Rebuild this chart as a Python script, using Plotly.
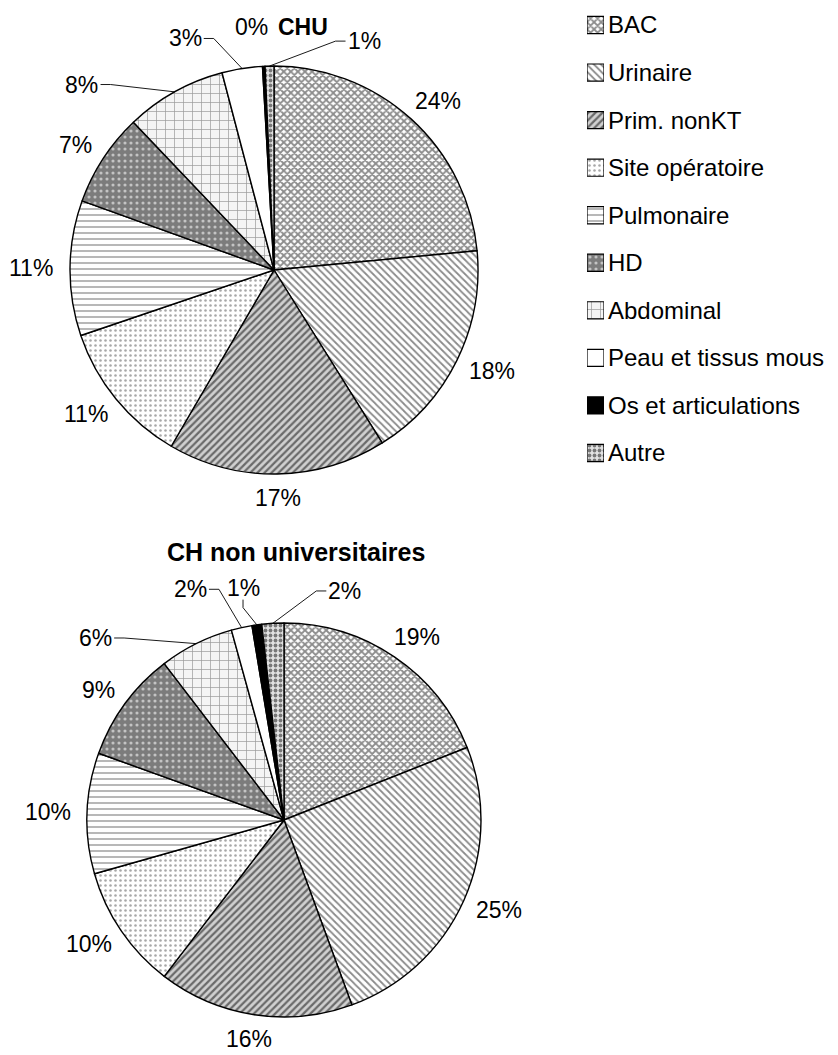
import math
import plotly.graph_objects as go

# categories, in slice order (clockwise from 12 o'clock)
categories = ["BAC", "Urinaire", "Prim. nonKT", "Site opératoire", "Pulmonaire", "HD",
              "Abdominal", "Peau et tissus mous", "Os et articulations", "Autre"]

# share of infections (%)
chu_values = [23.5, 17.6, 17.3, 11.4, 10.7, 7.4, 8.0, 3.2, 0.2, 0.7]
chnu_values = [19.0, 25.4, 16.0, 10.2, 9.9, 9.1, 6.1, 1.7, 0.8, 1.8]
pie_titles = ["CHU", "CH non universitaires"]

# ---- style ----
PAGE_W, PAGE_H = 838, 1055
OFF = 8                      # default body margin of the html page
W, H = PAGE_W - OFF, PAGE_H - OFF
FONT = "Liberation Sans, Arial, sans-serif"
LABEL_SIZE = 23
TITLE_SIZE = 25
LEGEND_SIZE = 24

pattern_shape = ["x", "\\", "/", ".", "-", ".", "+", "", "", "."]
pattern_bg = ["#ffffff", "#ffffff", "#d0d0d0", "#ffffff", "#ffffff", "#7c7c7c",
              "#f4f4f4", "#ffffff", "#000000", "#e2e2e2"]
pattern_fg = ["#8c8c8c", "#8a8a8a", "#6a6a6a", "#a8a8a8", "#a0a0a0", "#c4c4c4",
              "#9a9a9a", "#ffffff", "#000000", "#777777"]
pattern_size = [5, 5, 5, 5, 6, 6, 9, 8, 8, 5]
pattern_solid = [0.6, 0.35, 0.45, 0.2, 0.25, 0.22, 0.15, 0.3, 0.3, 0.45]

# pie geometry in page pixels: centre x, centre y, radius
pie_geom = [(274, 270, 204), (284, 820, 197)]
title_pos = [(303, 27), (296, 552)]
title_sizes = [23, TITLE_SIZE]
# callout labels (slice index -> text angle, text distance from centre)
callouts = [
    {6: (314, 267), 7: (339, 248), 8: (354.8, 244), 9: (21.5, 246)},
    {6: (314, 262), 7: (337.9, 249), 8: (350, 236), 9: (14.9, 237)},
]
LABEL_GAP = 16

# legend block (page pixels)
LEG_X0, LEG_X1 = 587, 604
LEG_FIRST, LEG_LAST = 25, 453
LEG_TOP, LEG_BOT = 8, 477


def to_paper(x, y):
    return (x - OFF) / W, 1 - (y - OFF) / H


def polar(cx, cy, rad, ang):
    a = math.radians(ang)
    return cx + rad * math.sin(a), cy - rad * math.cos(a)


fig = go.Figure()
annotations = []
shapes = []

for values, title, (cx, cy, r), tpos, tsize, calls in zip(
        [chu_values, chnu_values], pie_titles, pie_geom, title_pos, title_sizes, callouts):
    x0, y1 = to_paper(cx - r, cy - r)
    x1, y0 = to_paper(cx + r, cy + r)
    fig.add_trace(go.Pie(
        labels=categories,
        values=values,
        sort=False,
        direction="clockwise",
        rotation=0,
        textinfo="none",
        hoverinfo="label+percent",
        showlegend=False,
        domain=dict(x=[x0, x1], y=[y0, y1]),
        marker=dict(
            colors=pattern_bg,
            line=dict(color="black", width=1.4),
            pattern=dict(shape=pattern_shape, bgcolor=pattern_bg, fgcolor=pattern_fg,
                         size=pattern_size, solidity=pattern_solid, fillmode="replace"),
        ),
    ))

    tx, ty = to_paper(*tpos)
    annotations.append(dict(x=tx, y=ty, xref="paper", yref="paper", text="<b>%s</b>" % title,
                            showarrow=False, xanchor="center", yanchor="middle",
                            font=dict(family=FONT, size=tsize, color="black")))

    total = sum(values)
    start = 0.0
    for i, v in enumerate(values):
        span = v / total * 360
        mid = start + span / 2
        start += span
        pct = int(v / total * 100 + 0.5)
        text = "%d%%" % pct
        w = (0.556 * len(str(pct)) + 0.889) * LABEL_SIZE
        h = LABEL_SIZE * 0.7
        if i in calls:
            ang, dist = calls[i]
            lx, ly = polar(cx, cy, dist, ang)
            if pct > 0:
                px_, py_ = polar(cx, cy, r, mid)
                if px_ > lx + w / 2:
                    sx, sy = lx + w / 2 + 2, ly
                    ex, ey = sx + 10, sy
                elif px_ < lx - w / 2:
                    sx, sy = lx - w / 2 - 2, ly
                    ex, ey = sx - 10, sy
                else:
                    sx, sy = lx, ly + h / 2 + 4
                    ex, ey = sx, sy + 8
                pts = [to_paper(sx, sy), to_paper(ex, ey), to_paper(px_, py_)]
                path = "M %f %f L %f %f L %f %f" % (pts[0] + pts[1] + pts[2])
                shapes.append(dict(type="path", path=path, xref="paper", yref="paper",
                                   line=dict(color="black", width=0.9)))
        else:
            a = math.radians(mid)
            lx, ly = polar(cx, cy, r + LABEL_GAP, mid)
            lx += w / 2 * math.sin(a)
            ly -= h / 2 * math.cos(a)
        ax_, ay_ = to_paper(lx, ly)
        annotations.append(dict(x=ax_, y=ay_, xref="paper", yref="paper", text=text,
                                showarrow=False, xanchor="center", yanchor="middle",
                                font=dict(family=FONT, size=LABEL_SIZE, color="black")))

# legend drawn as a small bar chart of patterned squares
# (scalar marker colour so the per-square pattern colours are kept; plain fills become solid patterns)
legend_shape = [s if s else "." for s in pattern_shape]
legend_fg = [fg if s else bg for s, fg, bg in zip(pattern_shape, pattern_fg, pattern_bg)]
fig.add_trace(go.Bar(
    orientation="h",
    y=categories,
    x=[1] * len(categories),
    width=0.36,
    showlegend=False,
    hoverinfo="skip",
    marker=dict(
        color="white",
        line=dict(color="black", width=1.2),
        pattern=dict(shape=legend_shape, bgcolor=pattern_bg, fgcolor=legend_fg,
                     size=pattern_size, solidity=pattern_solid, fillmode="replace"),
    ),
))

leg_x0, leg_y0 = to_paper(LEG_X0, LEG_BOT)
leg_x1, leg_y1 = to_paper(LEG_X1, LEG_TOP)
step = (LEG_LAST - LEG_FIRST) / (len(categories) - 1)
y_range = [len(categories) - 1 + (LEG_BOT - LEG_LAST) / step, -(LEG_FIRST - LEG_TOP) / step]

fig.update_layout(
    width=W,
    height=H,
    margin=dict(l=0, r=0, t=0, b=0),
    paper_bgcolor="white",
    plot_bgcolor="rgba(0,0,0,0)",
    showlegend=False,
    annotations=annotations,
    shapes=shapes,
    xaxis=dict(domain=[leg_x0, leg_x1], range=[0, 1], visible=False, fixedrange=True),
    yaxis=dict(domain=[leg_y0, leg_y1], side="right",
               categoryorder="array", categoryarray=categories, range=y_range,
               showgrid=False, zeroline=False, showline=False, ticks="",
               ticklabelstandoff=3,
               tickfont=dict(family=FONT, size=LEGEND_SIZE, color="black"), fixedrange=True),
)

fig.write_html("out.html")
